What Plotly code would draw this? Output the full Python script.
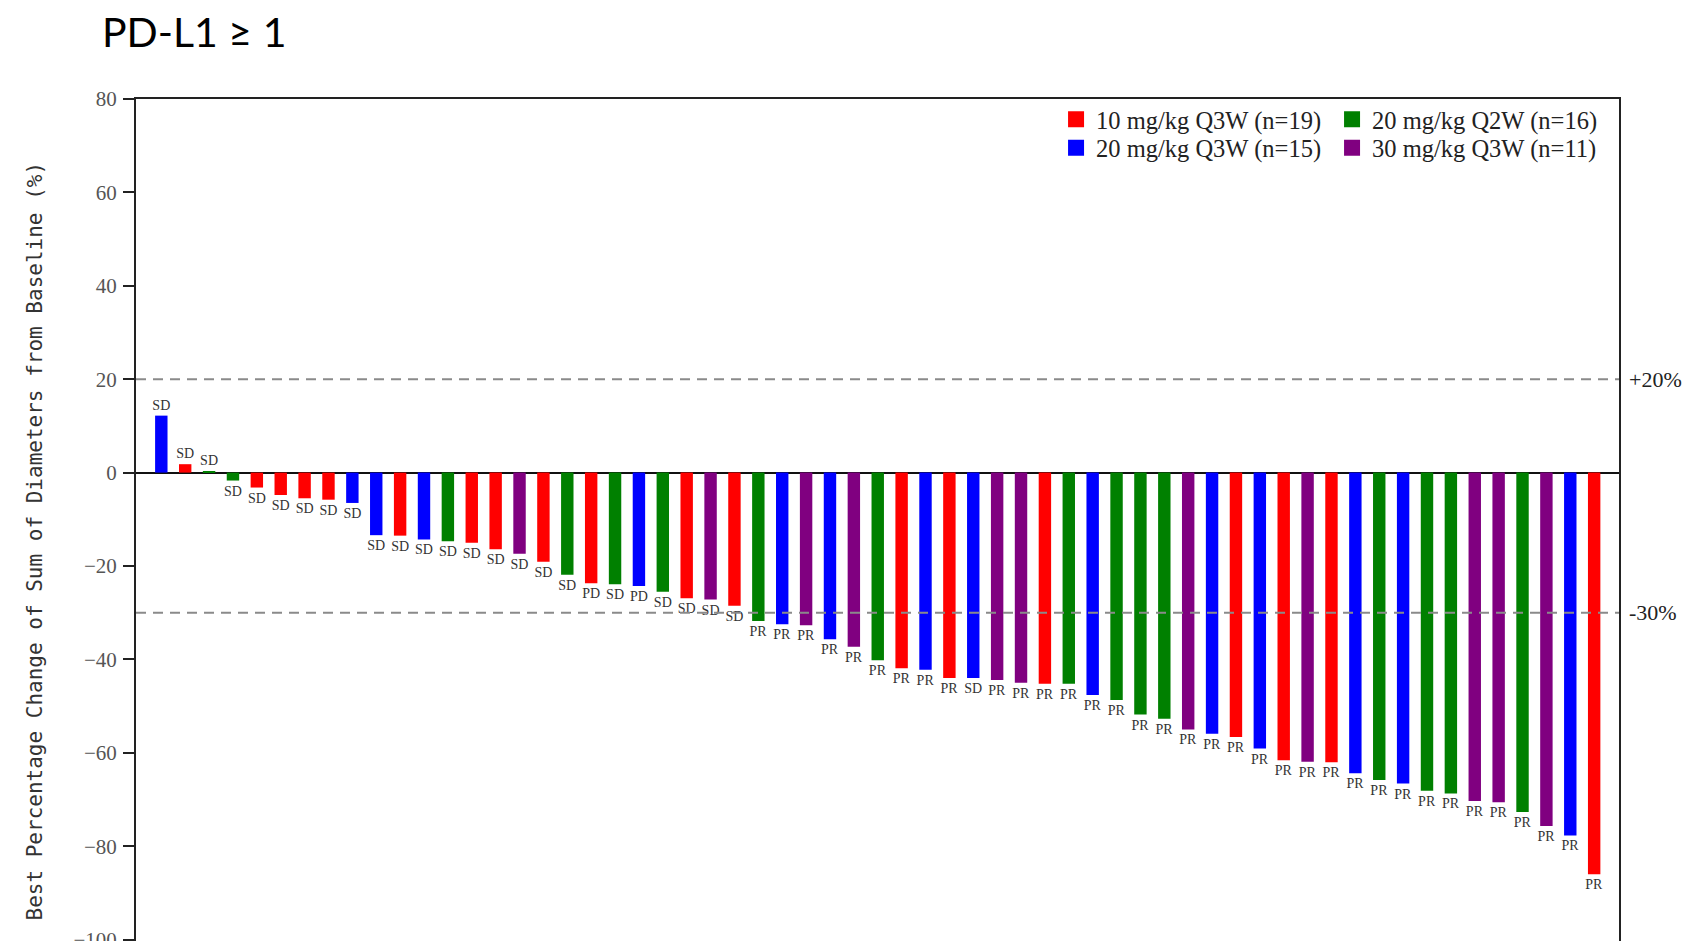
import plotly.graph_objects as go

# ---------------- data ----------------
values = [12.2, 1.8, 0.3, -1.7, -3.2, -4.8, -5.5, -5.8, -6.5, -13.4,
          -13.5, -14.3, -14.7, -15.0, -16.4, -17.4, -19.1, -21.9, -23.7, -23.9,
          -24.3, -25.5, -26.9, -27.2, -28.5, -31.8, -32.5, -32.7, -35.7, -37.3,
          -40.2, -41.9, -42.2, -44.0, -44.0, -44.4, -45.0, -45.2, -45.2, -47.6,
          -48.7, -51.8, -52.7, -55.0, -55.9, -56.6, -59.1, -61.6, -61.9, -62.0,
          -64.4, -65.8, -66.6, -68.1, -68.7, -70.3, -70.6, -72.7, -75.7, -77.7,
          -86.0]
arms = ["B", "R", "G", "G", "R", "R", "R", "R", "B", "B",
        "R", "B", "G", "R", "R", "P", "R", "G", "R", "G",
        "B", "G", "R", "P", "R", "G", "B", "P", "B", "P",
        "G", "R", "B", "R", "B", "P", "P", "R", "G", "B",
        "G", "G", "G", "P", "B", "R", "B", "R", "P", "R",
        "B", "G", "B", "G", "G", "P", "P", "G", "P", "B",
        "R"]
responses = ["SD"] * 18 + ["PD", "SD", "PD", "SD", "SD", "SD", "SD"] + ["PR"] * 9 + ["SD"] + ["PR"] * 26

arm_codes = ["R", "G", "B", "P"]
arm_names = {"R": "10 mg/kg Q3W (n=19)", "G": "20 mg/kg Q2W (n=16)",
             "B": "20 mg/kg Q3W (n=15)", "P": "30 mg/kg Q3W (n=11)"}
arm_colors = {"R": "#FF0000", "G": "#008000", "B": "#0000FF", "P": "#800080"}
arm_legend = {"R": "legend", "G": "legend", "B": "legend2", "P": "legend2"}

ref_lines = [20, -30]
ref_labels = ["+20%", "-30%"]
y_ticks = [-100, -80, -60, -40, -20, 0, 20, 40, 60, 80]

title_text = "PD-L1 \u2265 1"
y_title = "Best Percentage Change of Sum of Diameters from Baseline (%)"

SERIF = "Liberation Serif, Times New Roman, serif"

fig = go.Figure()

for code in arm_codes:
    idx = [i for i, a in enumerate(arms) if a == code]
    fig.add_trace(go.Bar(
        x=idx,
        y=[values[i] for i in idx],
        text=[responses[i] for i in idx],
        marker=dict(color=arm_colors[code], line=dict(width=0)),
        width=0.52,
        textposition="outside",
        constraintext="none",
        cliponaxis=False,
        textangle=0,
        textfont=dict(family=SERIF, size=14, color="#333"),
        showlegend=False,
        name=arm_names[code],
    ))

for code in ["R", "G", "B", "P"]:
    fig.add_trace(go.Scatter(
        x=[None], y=[None], mode="markers",
        marker=dict(symbol="square", size=16, color=arm_colors[code]),
        name=arm_names[code], legend=arm_legend[code], showlegend=True,
    ))

for v, lab in zip(ref_lines, ref_labels):
    fig.add_shape(type="line", xref="paper", x0=0, x1=1, yref="y", y0=v, y1=v,
                  line=dict(color="#8a8a8a", width=2, dash="10px,7px"), layer="above")
    fig.add_annotation(xref="paper", x=1, xanchor="left", xshift=8, yref="y", y=v,
                       yanchor="middle", text=lab, showarrow=False,
                       font=dict(family=SERIF, size=22, color="#222"))

fig.add_annotation(xref="paper", x=-0.0678, yref="paper", y=0.475,
                   text=y_title, textangle=-90, showarrow=False,
                   xanchor="center", yanchor="middle",
                   font=dict(family="DejaVu Sans Mono, monospace", size=21, color="#333"))

legend_common = dict(orientation="h", entrywidth=231, entrywidthmode="pixels",
                     font=dict(family=SERIF, size=24.5, color="#222"),
                     bgcolor="rgba(0,0,0,0)", borderwidth=0,
                     xref="paper", x=0.6204, xanchor="left", yanchor="middle",
                     itemclick=False, itemdoubleclick=False)

fig.update_layout(
    width=1683, height=941,
    margin=dict(l=136, r=64, t=99, b=0, autoexpand=False),
    paper_bgcolor="white", plot_bgcolor="white",
    barmode="overlay",
    title=dict(text=title_text, xref="container", x=102 / 1683, xanchor="left",
               yref="container", y=1 - 33 / 941, yanchor="middle",
               font=dict(family="Lato, sans-serif", size=41, color="#000")),
    legend=dict(y=0.976, **legend_common),
    legend2=dict(y=0.942, **legend_common),
    xaxis=dict(range=[-1.06, 61.04], side="top", showline=True, linewidth=2,
               linecolor="#222", showticklabels=False, ticks="", showgrid=False,
               zeroline=False, automargin=False),
    yaxis=dict(range=[-100.3, 80], tickvals=y_ticks, showline=True, mirror=True,
               linewidth=2, linecolor="#222", ticks="outside", ticklen=11,
               tickwidth=2, tickcolor="#222", ticklabelstandoff=2,
               ticklabeloverflow="allow", automargin=False,
               tickfont=dict(family=SERIF, size=21, color="#555"),
               showgrid=False, zeroline=True, zerolinecolor="#111",
               zerolinewidth=2),
    showlegend=True,
)

fig.write_html("out.html", config={"displayModeBar": False},
               post_script="document.body.style.margin='0';")
